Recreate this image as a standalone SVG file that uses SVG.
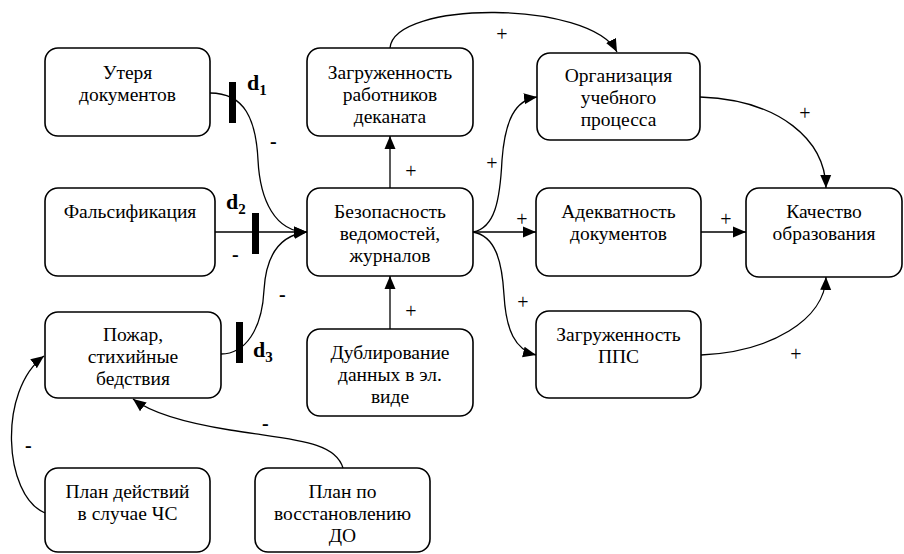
<svg xmlns="http://www.w3.org/2000/svg" width="904" height="554" viewBox="0 0 904 554">
<style>
text{font-family:"Liberation Serif","Times New Roman",serif;fill:#000}
.box{fill:#fff;stroke:#000;stroke-width:1.6}
.t{font-size:19.5px;text-anchor:middle}
.ln{fill:none;stroke:#000;stroke-width:1.3}
.lab{font-size:20px;text-anchor:middle}
.minus{font-size:20px;font-weight:bold}
.d{font-size:22px;font-weight:bold}
.bar{fill:#000}
</style>
<defs>
<marker id="ah" markerUnits="userSpaceOnUse" markerWidth="14" markerHeight="14" viewBox="0 0 14 14" refX="13" refY="7" orient="auto">
<path d="M0,1.5 L13,7 L0,12.5 Z" fill="#000"/>
</marker>
</defs>
<rect width="904" height="554" fill="#fff"/>

<g id="n-uterya"><rect class="box" x="45" y="48" width="165" height="88" rx="13"/>
<text class="t" x="127.5" y="79">Утеря</text><text class="t" x="127.5" y="101">документов</text></g>
<g id="n-zagr-dek"><rect class="box" x="307" y="48" width="166" height="88" rx="13"/>
<text class="t" x="390" y="79">Загруженность</text><text class="t" x="390" y="101">работников</text><text class="t" x="390" y="123">деканата</text></g>
<g id="n-org"><rect class="box" x="537" y="53" width="163" height="87" rx="13"/>
<text class="t" x="618.5" y="82">Организация</text><text class="t" x="618.5" y="104">учебного</text><text class="t" x="618.5" y="126">процесса</text></g>
<g id="n-fals"><rect class="box" x="45" y="188" width="170" height="88" rx="13"/>
<text class="t" x="130" y="218">Фальсификация</text></g>
<g id="n-bezop"><rect class="box" x="307" y="188" width="166" height="88" rx="13"/>
<text class="t" x="390" y="218">Безопасность</text><text class="t" x="390" y="240">ведомостей,</text><text class="t" x="390" y="262">журналов</text></g>
<g id="n-adekv"><rect class="box" x="536" y="188" width="165" height="88" rx="13"/>
<text class="t" x="618.5" y="218">Адекватность</text><text class="t" x="618.5" y="240">документов</text></g>
<g id="n-kach"><rect class="box" x="746" y="188" width="156" height="89" rx="13"/>
<text class="t" x="824" y="218">Качество</text><text class="t" x="824" y="240">образования</text></g>
<g id="n-pozhar"><rect class="box" x="45" y="312" width="176" height="86" rx="13"/>
<text class="t" x="133" y="341">Пожар,</text><text class="t" x="133" y="363">стихийные</text><text class="t" x="133" y="385">бедствия</text></g>
<g id="n-dubl"><rect class="box" x="307" y="329" width="166" height="87" rx="13"/>
<text class="t" x="390" y="359">Дублирование</text><text class="t" x="390" y="381">данных в эл.</text><text class="t" x="390" y="403">виде</text></g>
<g id="n-pps"><rect class="box" x="536" y="311" width="165" height="87" rx="13"/>
<text class="t" x="618.5" y="341">Загруженность</text><text class="t" x="618.5" y="363">ППС</text></g>
<g id="n-plan-chs"><rect class="box" x="45" y="468" width="165" height="84" rx="13"/>
<text class="t" x="127.5" y="498">План действий</text><text class="t" x="127.5" y="520">в случае ЧС</text></g>
<g id="n-plan-do"><rect class="box" x="255" y="468" width="175" height="84" rx="13"/>
<text class="t" x="342.5" y="498">План по</text><text class="t" x="342.5" y="520">восстановлению</text><text class="t" x="342.5" y="542">ДО</text></g>

<g id="connectors">
<path class="ln" marker-end="url(#ah)" d="M390,48 C394,0 590,0 617,52"/>
<path class="ln" marker-end="url(#ah)" d="M390,188 L390,136"/>
<path class="ln" marker-end="url(#ah)" d="M210,93 C245,93 256,120 258,160 C260,200 275,232 307,232"/>
<path class="ln" marker-end="url(#ah)" d="M215,232 L307,232"/>
<path class="ln" marker-end="url(#ah)" d="M221,354 C245,354 262,330 264,290 C266,255 280,235 307,232"/>
<path class="ln" marker-end="url(#ah)" d="M390,329 L390,276"/>
<path class="ln" marker-end="url(#ah)" d="M473,232 C495,228 500,200 502,160 C505,120 515,100 537,97"/>
<path class="ln" marker-end="url(#ah)" d="M473,232 L536,232"/>
<path class="ln" marker-end="url(#ah)" d="M473,232 C495,236 502,260 504,295 C506,330 515,350 536,355"/>
<path class="ln" marker-end="url(#ah)" d="M701,232 L746,232"/>
<path class="ln" marker-end="url(#ah)" d="M700,97 C780,100 825,140 826,188"/>
<path class="ln" marker-end="url(#ah)" d="M701,355 C770,352 825,320 826,277"/>
<path class="ln" marker-end="url(#ah)" d="M45,513 C3,495 -2,390 44,356"/>
<path class="ln" marker-end="url(#ah)" d="M343,468 C335,440 290,440 230,430 C180,422 150,412 133,399"/>
<rect class="bar" x="229" y="82" width="7" height="41"/>
<rect class="bar" x="252" y="213" width="7" height="41"/>
<rect class="bar" x="236" y="322" width="7" height="41"/>
<text class="d" x="247" y="90">d<tspan font-size="15" dy="5">1</tspan></text>
<text class="d" x="226" y="209">d<tspan font-size="15" dy="5">2</tspan></text>
<text class="d" x="253" y="357">d<tspan font-size="15" dy="5">3</tspan></text>
<text class="minus" x="270" y="148">-</text>
<text class="minus" x="232" y="261">-</text>
<text class="minus" x="279" y="301">-</text>
<text class="minus" x="25" y="452">-</text>
<text class="minus" x="262" y="430">-</text>
<text class="lab" x="502" y="41">+</text>
<text class="lab" x="411" y="178">+</text>
<text class="lab" x="411" y="318">+</text>
<text class="lab" x="492" y="170">+</text>
<text class="lab" x="522" y="226">+</text>
<text class="lab" x="523" y="309">+</text>
<text class="lab" x="726" y="226">+</text>
<text class="lab" x="805" y="120">+</text>
<text class="lab" x="796" y="361">+</text>
</g>
</svg>
